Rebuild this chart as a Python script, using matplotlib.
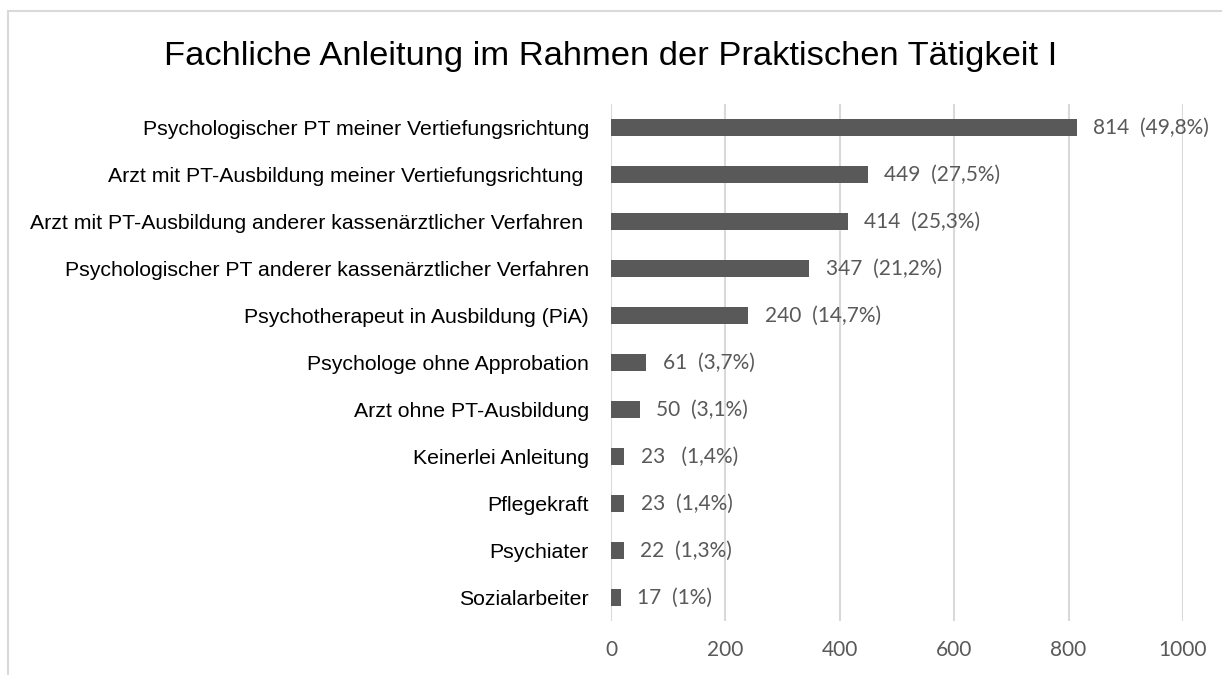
import matplotlib.pyplot as plt
import matplotlib.patches as mpatches

categories = ['Psychologischer PT meiner Vertiefungsrichtung',
              'Arzt mit PT-Ausbildung meiner Vertiefungsrichtung ',
              'Arzt mit PT-Ausbildung anderer kassenärztlicher Verfahren ',
              'Psychologischer PT anderer kassenärztlicher Verfahren',
              'Psychotherapeut in Ausbildung (PiA)',
              'Psychologe ohne Approbation',
              'Arzt ohne PT-Ausbildung',
              'Keinerlei Anleitung',
              'Pflegekraft',
              'Psychiater',
              'Sozialarbeiter']
counts = [814, 449, 414, 347, 240, 61, 50, 23, 23, 22, 17]
value_labels = ['814  (49,8%)', '449  (27,5%)', '414  (25,3%)', '347  (21,2%)',
                '240  (14,7%)', '61  (3,7%)', '50  (3,1%)', '23   (1,4%)',
                '23  (1,4%)', '22  (1,3%)', '17  (1%)']
xticks = [0, 200, 400, 600, 800, 1000]

fig = plt.figure(figsize=(12.22, 6.75), dpi=100)
ax = fig.add_axes([0.5, 0.08, 0.468, 0.766])

ypos = list(range(len(categories)))[::-1]
ax.barh(ypos, counts, height=0.36, color='#595959', zorder=3)

for y, v, lab in zip(ypos, counts, value_labels):
    ax.annotate(lab, xy=(v, y), xytext=(12, 0), textcoords='offset points',
                va='center', ha='left', fontsize=15, color='#595959', family='Lato')

ax.set_xlim(0, 1000)
ax.set_ylim(-0.5, len(categories) - 0.5)
ax.set_xticks(xticks)
ax.set_xticklabels([str(t) for t in xticks], fontsize=15, color='#595959', family='Lato')
ax.set_yticks(ypos)
ax.set_yticklabels(categories, fontsize=15.3, color='black', family='Liberation Sans')
ax.tick_params(axis='both', length=0)
ax.tick_params(axis='y', pad=16)
ax.tick_params(axis='x', pad=14)
ax.grid(axis='x', color='#d9d9d9', linewidth=1.5, zorder=0)
for s in ax.spines.values():
    s.set_visible(False)

fig.text(0.5, 0.916, 'Fachliche Anleitung im Rahmen der Praktischen Tätigkeit I',
         ha='center', va='center', fontsize=24.8, family='Liberation Sans', color='black')

# chart area border
fig.patches.append(mpatches.Rectangle((8 / 1222, -0.1), 1.2, 1 - 11 / 675 + 0.1,
                                      transform=fig.transFigure, fill=False,
                                      edgecolor='#d9d9d9', linewidth=1.5))

plt.savefig('out.png', dpi=100)
